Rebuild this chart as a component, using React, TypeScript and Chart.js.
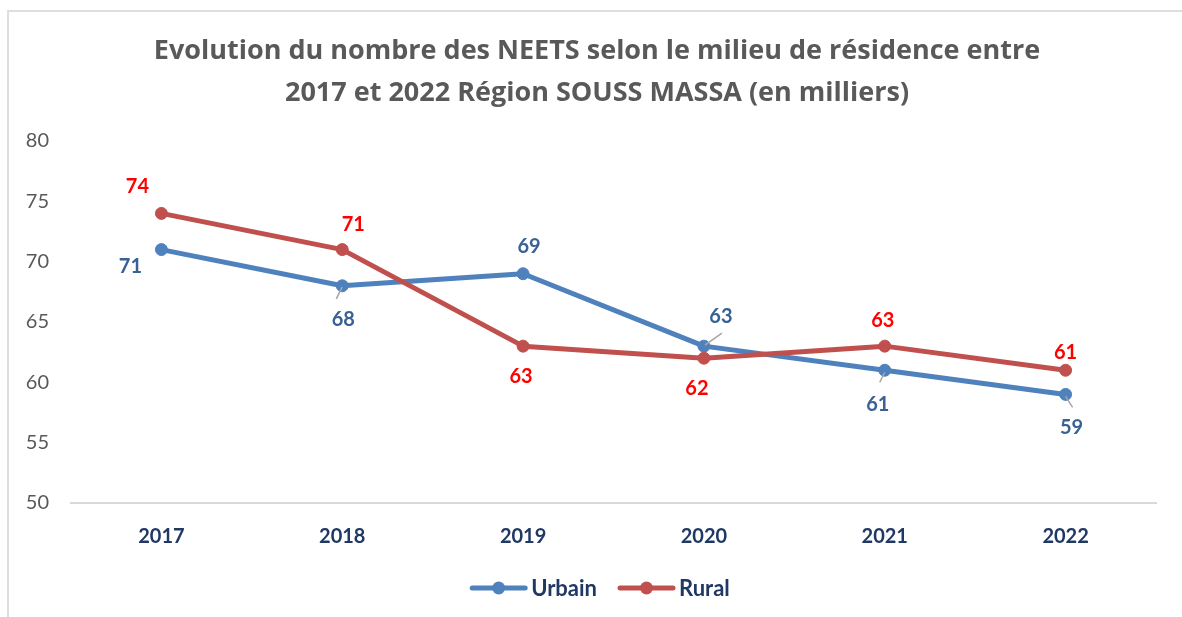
import React, { useEffect, useRef } from "react";
import { Chart, registerables } from "chart.js";

Chart.register(...registerables);

const years = ["2017", "2018", "2019", "2020", "2021", "2022"];
const urbain = [71, 68, 69, 63, 61, 59];
const rural = [74, 71, 63, 62, 63, 61];
const yTicks = [50, 55, 60, 65, 70, 75, 80];
const titleLines = [
  "Evolution du nombre des NEETS selon le milieu de résidence entre",
  "2017 et 2022 Région SOUSS MASSA (en milliers)",
];
const seriesNames = ["Urbain", "Rural"];

// label offsets (pixels) relative to each point, and optional leader lines
const urbainLabelOffsets = [[-31, 17], [1, 34], [6, -27], [17, -30], [-7, 34], [6, 33]];
const ruralLabelOffsets = [[-24, -27], [11, -25], [-2, 30], [-7, 30], [-2, -26], [0, -18]];
const urbainLeaders = [null, [0, 1, -6, 13], null, [1, -1, 18, -13], [0, 2, -5, 12], [0, 2, 7, 13]];

const FONT = "Lato, 'Open Sans', 'Liberation Sans', sans-serif";
const TITLE_FONT = "'Open Sans', Lato, 'Liberation Sans', sans-serif";
const BLUE = "#4F81BD";
const RED = "#C0504D";
const BLUE_LABEL = "#3A6194";
const RED_LABEL = "#FF0000";
const NAVY = "#1F3864";
const GRAY = "#595959";

const overlayPlugin = {
  id: "overlay",
  afterDatasetsDraw(chart: any) {
    const ctx = chart.ctx;
    ctx.save();
    // leader lines
    const mU = chart.getDatasetMeta(0);
    ctx.strokeStyle = "#A6A6A6";
    ctx.lineWidth = 1.5;
    urbainLeaders.forEach((l, i) => {
      if (!l) return;
      const p = mU.data[i];
      ctx.beginPath();
      ctx.moveTo(p.x + l[0], p.y + l[1]);
      ctx.lineTo(p.x + l[2], p.y + l[3]);
      ctx.stroke();
    });
    // data labels
    ctx.font = `bold 20px ${FONT}`;
    ctx.textAlign = "center";
    ctx.textBaseline = "middle";
    const draw = (dsIndex: number, values: number[], offs: number[][], color: string) => {
      const meta = chart.getDatasetMeta(dsIndex);
      ctx.fillStyle = color;
      values.forEach((v, i) => {
        const p = meta.data[i];
        ctx.fillText(String(v), p.x + offs[i][0], p.y + offs[i][1]);
      });
    };
    draw(0, urbain, urbainLabelOffsets, BLUE_LABEL);
    draw(1, rural, ruralLabelOffsets, RED_LABEL);

    // title
    ctx.fillStyle = GRAY;
    ctx.font = `bold 27px ${TITLE_FONT}`;
    ctx.fillText(titleLines[0], 597, 51);
    ctx.fillText(titleLines[1], 597, 93);

    // legend
    ctx.font = `bold 22px ${FONT}`;
    ctx.textAlign = "left";
    const segW = 57;
    const gap1 = 4;
    const gap2 = 21;
    const colors = [BLUE, RED];
    const widths = seriesNames.map((n) => ctx.measureText(n).width);
    const total = segW * 2 + gap1 * 2 + gap2 + widths[0] + widths[1];
    let x = 600 - total / 2;
    const y = 588;
    seriesNames.forEach((n, i) => {
      ctx.strokeStyle = colors[i];
      ctx.lineWidth = 5;
      ctx.lineCap = "round";
      ctx.beginPath();
      ctx.moveTo(x + 2, y);
      ctx.lineTo(x + segW - 2, y);
      ctx.stroke();
      ctx.fillStyle = colors[i];
      ctx.beginPath();
      ctx.arc(x + segW / 2, y, 6.5, 0, Math.PI * 2);
      ctx.fill();
      x += segW + gap1;
      ctx.fillStyle = NAVY;
      ctx.fillText(n, x, y + 1);
      x += widths[i] + gap2;
    });
    ctx.restore();
  },
};

export default function App() {
  const ref = useRef<HTMLCanvasElement>(null);
  useEffect(() => {
    if (!ref.current) return;
    const chart = new Chart(ref.current, {
      type: "line",
      data: {
        labels: years,
        datasets: [
          {
            label: seriesNames[0],
            data: urbain,
            borderColor: BLUE,
            backgroundColor: BLUE,
            pointBackgroundColor: BLUE,
            pointBorderColor: BLUE,
            borderWidth: 5,
            pointRadius: 6,
            pointBorderWidth: 1,
            borderCapStyle: "round",
            borderJoinStyle: "round",
            tension: 0,
            order: 1,
          },
          {
            label: seriesNames[1],
            data: rural,
            borderColor: RED,
            backgroundColor: RED,
            pointBackgroundColor: RED,
            pointBorderColor: RED,
            borderWidth: 5,
            pointRadius: 6,
            pointBorderWidth: 1,
            borderCapStyle: "round",
            borderJoinStyle: "round",
            tension: 0,
            order: 0,
          },
        ],
      },
      options: {
        responsive: false,
        animation: false,
        layout: { padding: { left: 0, right: 26, top: 141, bottom: 0 } },
        plugins: {
          legend: { display: false },
          title: { display: false },
          tooltip: { enabled: false },
        },
        scales: {
          x: {
            offset: true,
            grid: { display: false, drawTicks: false },
            border: { display: true, color: "#D9D9D9", width: 2 },
            ticks: {
              color: NAVY,
              font: { family: FONT, size: 20, weight: "bold" },
              padding: 22,
              maxRotation: 0,
            },
            afterFit: (s: any) => {
              s.height = 114;
            },
          },
          y: {
            min: 50,
            max: 80,
            afterBuildTicks: (s: any) => {
              s.ticks = yTicks.map((v) => ({ value: v }));
            },
            grid: { display: false, drawTicks: false },
            border: { display: false },
            ticks: {
              color: GRAY,
              font: { family: FONT, size: 20 },
              padding: 22,
            },
            afterFit: (s: any) => {
              s.width = 71;
            },
          },
        },
      },
      plugins: [overlayPlugin],
    } as any);
    return () => chart.destroy();
  }, []);
  return (
    <div
      style={{
        position: "fixed",
        left: 0,
        top: 0,
        width: 1182,
        height: 617,
        overflow: "hidden",
        background: "#fff",
      }}
    >
      <div
        style={{
          position: "absolute",
          left: 7,
          top: 10,
          width: 1220,
          height: 700,
          border: "2px solid #DEDEDE",
          boxSizing: "border-box",
        }}
      />
      <canvas
        ref={ref}
        width={1182}
        height={617}
        style={{ position: "absolute", left: 0, top: 0, width: 1182, height: 617 }}
      />
    </div>
  );
}
